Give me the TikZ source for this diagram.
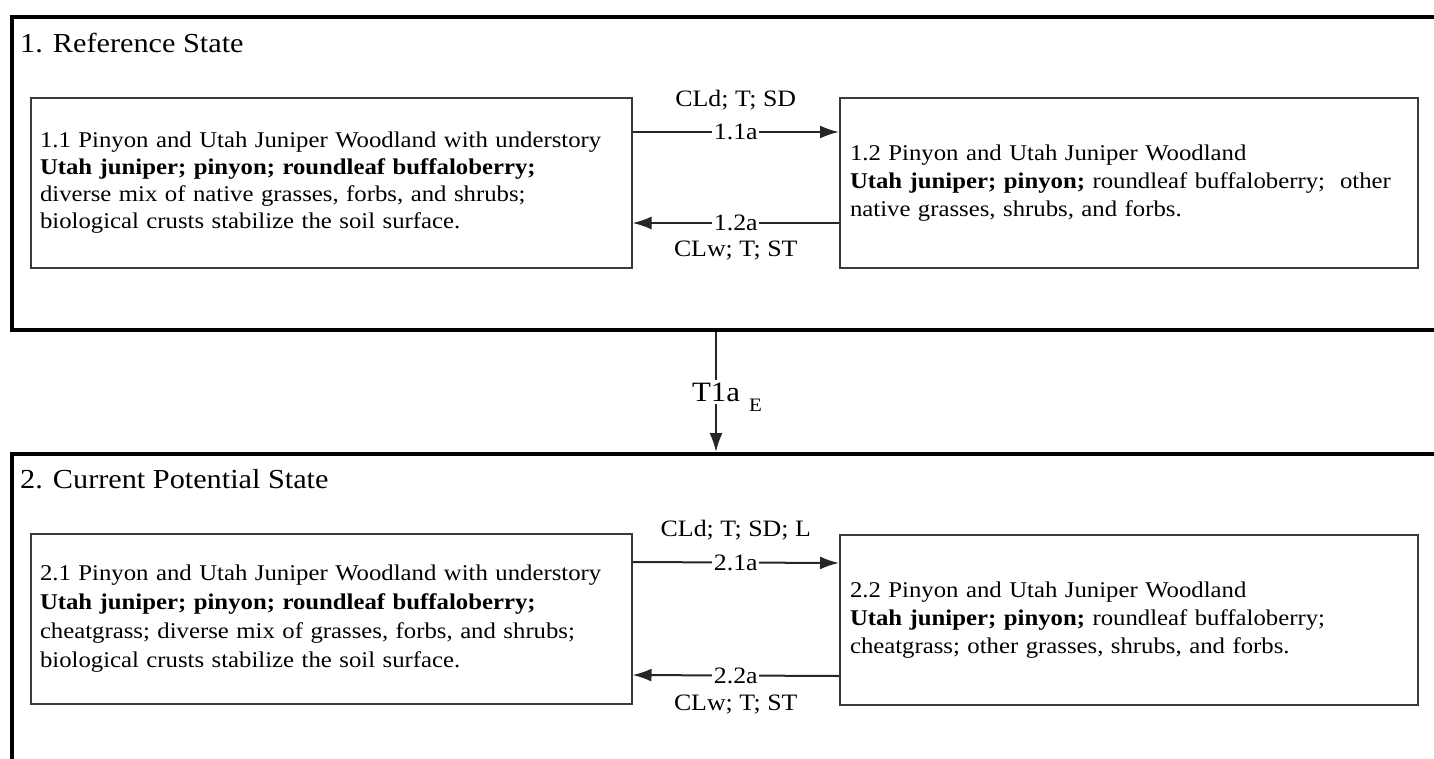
\documentclass[tikz,border=0pt]{standalone}
\usepackage{fontspec}
\setmainfont{Liberation Serif}[FakeStretch=1.1]
\usetikzlibrary{arrows.meta}
\definecolor{boxline}{HTML}{3A3A3A}
\tikzset{
  frame/.style={draw=black, line width=4pt, rectangle, inner sep=0pt, anchor=north west},
  statebox/.style={draw=boxline, line width=2pt, rectangle, minimum height=170pt, align=left, inner sep=0pt,
    font=\fontsize{22.5}{28}\selectfont},
  titletext/.style={anchor=west, inner sep=0pt, font=\fontsize{27.5}{32}\selectfont},
  arr/.style={draw=black!85, line width=2pt, -{Latex[length=19pt,width=13pt]}},
  onlbl/.style={fill=white, inner sep=1.5pt, font=\fontsize{23.5}{26}\selectfont},
  offlbl/.style={inner sep=0pt, font=\fontsize{23.5}{26}\selectfont},
}
\begin{document}
\begin{tikzpicture}[x=1pt, y=-1pt]
\useasboundingbox (0,0) rectangle (1434,758);
\clip (0,0) rectangle (1434,758);
% state frames
\node[frame, minimum width=1460pt, minimum height=313pt] (s1) at (10,15) {};
\node[frame, minimum width=1460pt, minimum height=400pt] (s2) at (10,452) {};
\node[titletext] (t1) at (20,43) {1. Reference State};
\node[titletext] (t2) at (20,479) {2. Current Potential State};
% community phase boxes
\node[statebox, minimum width=601pt, text width=582pt, font=\fontsize{22.5}{27}\selectfont] (b11) at (331,183)
  {1.1 Pinyon and Utah Juniper Woodland with understory\\
   \textbf{Utah juniper; pinyon; roundleaf buffaloberry;}\\
   diverse mix of native grasses, forbs, and shrubs;\\
   biological crusts stabilize the soil surface.};
\node[statebox, minimum width=578pt, text width=558pt] (b12) at (1129,183)
  {1.2 Pinyon and Utah Juniper Woodland\\
   \textbf{Utah juniper; pinyon;} roundleaf buffaloberry;\ \ other\\
   native grasses, shrubs, and forbs.};
\node[statebox, minimum width=601pt, text width=582pt, font=\fontsize{22.5}{29}\selectfont] (b21) at (331,619)
  {2.1 Pinyon and Utah Juniper Woodland with understory\\
   \textbf{Utah juniper; pinyon; roundleaf buffaloberry;}\\
   cheatgrass; diverse mix of grasses, forbs, and shrubs;\\
   biological crusts stabilize the soil surface.};
\node[statebox, minimum width=578pt, text width=558pt] (b22) at (1129,620)
  {2.2 Pinyon and Utah Juniper Woodland\\
   \textbf{Utah juniper; pinyon;} roundleaf buffaloberry;\\
   cheatgrass; other grasses, shrubs, and forbs.};
% pathways in state 1
\draw[arr] ([yshift=51pt]b11.east) -- node[onlbl]{1.1a}
  node[offlbl, yshift=32pt]{CLd; T; SD} ([yshift=51pt]b12.west);
\draw[arr] ([yshift=-40pt]b12.west) -- node[onlbl]{1.2a}
  node[offlbl, yshift=-28pt]{CLw; T; ST} ([yshift=-40pt]b11.east);
% pathways in state 2
\draw[arr] ([yshift=57pt]b21.east) -- node[onlbl]{2.1a}
  node[offlbl, yshift=32pt]{CLd; T; SD; L} ([yshift=57pt]b22.west);
\draw[arr] ([yshift=-56pt]b22.west) -- node[onlbl]{2.2a}
  node[offlbl, yshift=-29pt]{CLw; T; ST} ([yshift=-56pt]b21.east);
% transition
\coordinate (tx) at (716,390);
\draw[arr] (s1.south -| tx) -- node[fill=white, inner sep=3pt, font=\fontsize{28}{32}\selectfont] (t1a) {T1a} (s2.north -| tx);
\node[anchor=west, inner sep=0pt, font=\fontsize{19}{22}\selectfont] (e) at ([xshift=5pt,yshift=-13pt]t1a.east) {E};
\end{tikzpicture}
\end{document}
